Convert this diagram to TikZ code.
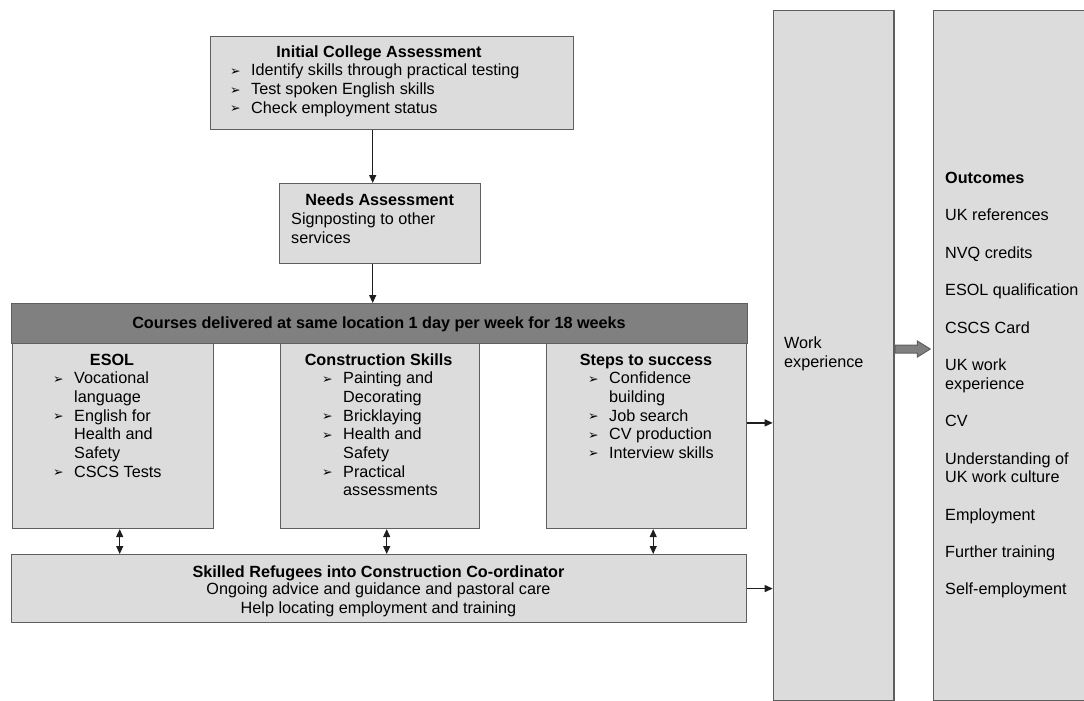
\documentclass[tikz,border=0pt]{standalone}
\usepackage{fontspec}
\setmainfont{Liberation Sans}
\newfontfamily\dingfont{DejaVu Sans}
\usepackage{tikz}
\usetikzlibrary{arrows.meta, positioning, calc, shapes.arrows}
\definecolor{cBox}{RGB}{220,220,220}
\definecolor{cBar}{RGB}{128,128,128}
\definecolor{cEdge}{RGB}{95,95,95}
\definecolor{cLine}{RGB}{30,30,30}
\newcommand{\bul}{\makebox[21pt][l]{\raisebox{0.5pt}{\dingfont\fontsize{12.5}{12.5}\selectfont ➢}}}
\newcommand{\ind}{\hspace*{21pt}}
\tikzset{
	panel/.style    ={rectangle, draw=cEdge, line width=1.4pt, fill=cBox, anchor=north west, inner sep=0pt},
	txt/.style      ={inner sep=0pt, font=\fontsize{16.2}{18.7}\selectfont},
	list/.style     ={txt, anchor=north west, align=left},
	head/.style     ={inner sep=0pt, anchor=base, font=\fontsize{16.2}{18.7}\selectfont\bfseries},
	flowarrow/.style={-{Triangle[length=8pt, width=7pt]}, line width=1.2pt, draw=cLine},
	duplex/.style   ={{Triangle[length=8pt, width=7pt]}-{Triangle[length=8pt, width=7pt]}, line width=1.2pt, draw=cLine},
	fatarrow/.style ={single arrow, draw=cEdge, line width=1pt, fill=cBar, inner sep=3.5pt, minimum height=35pt,
		single arrow head extend=4pt, single arrow tip angle=64, anchor=tail},
}

\begin{document}
\begin{tikzpicture}[x=1pt, y=-1pt]
	\useasboundingbox (0,0) rectangle (1084,701);
	% boxes
	\node[panel, minimum width=363pt, minimum height=93pt]   (init)  at (210,36) {};
	\node[panel, minimum width=201pt, minimum height=80pt]   (needs) at (279,183) {};
	\node[panel, minimum width=736pt, minimum height=40pt, fill=cBar] (bar) at (11,303) {};
	\node[panel, minimum width=201pt, minimum height=185pt]  (esol)  at (12,342.7) {};
	\node[panel, minimum width=199pt, minimum height=185pt]  (cons)  at (280,342.7) {};
	\node[panel, minimum width=200pt, minimum height=185pt]  (steps) at (546,342.7) {};
	\node[panel, minimum width=735pt, minimum height=67.7pt] (coord) at (11,554) {};
	\node[panel, minimum width=120.6pt, minimum height=690pt] (work) at (772.7,10) {};
	\node[panel, minimum width=200pt, minimum height=690pt]  (outc)  at (932.7,10) {};

	% texts
	\node[head] (tInit) at (379,58) {Initial College Assessment};
	\node[list] (lInit) at (230,64) {\bul Identify skills through practical testing\\ \bul Test spoken English skills\\ \bul Check employment status};
	\node[head] (tNeeds) at (379.7,205) {Needs Assessment};
	\node[list] (lNeeds) at (291,213) {Signposting to other\\ services};
	\node[head] (tBar) at (379,328) {Courses delivered at same location 1 day per week for 18 weeks};
	\node[head] (tEsol) at (112,365) {ESOL};
	\node[list] (lEsol) at (53,371.7) {\bul Vocational\\ \ind language\\ \bul English for\\ \ind Health and\\ \ind Safety\\ \bul CSCS Tests};
	\node[head] (tCons) at (378.6,365) {Construction Skills};
	\node[list] (lCons) at (322,371.7) {\bul Painting and\\ \ind Decorating\\ \bul Bricklaying\\ \bul Health and\\ \ind Safety\\ \bul Practical\\ \ind assessments};
	\node[head] (tSteps) at (646,365) {Steps to success};
	\node[list] (lSteps) at (588,371.7) {\bul Confidence\\ \ind building\\ \bul Job search\\ \bul CV production\\ \bul Interview skills};
	\node[head] (tCoord) at (378.5,577) {Skilled Refugees into Construction Co-ordinator};
	\node[txt, anchor=north, align=center] (lCoord) at (378.5,583) {Ongoing advice and guidance and pastoral care\\ Help locating employment and training};
	\node[list] (lWork) at (784,337) {Work\\ experience};
	\node[list] (lOutc) at (945,172) {\textbf{Outcomes}\\[18.7pt] UK references\\[18.7pt] NVQ credits\\[18.7pt] ESOL qualification\\[18.7pt] CSCS Card\\[18.7pt]
		UK work\\ experience\\[18.7pt] CV\\[18.7pt] Understanding of\\ UK work culture\\[18.7pt] Employment\\[18.7pt] Further training\\[18.7pt] Self-employment};

	% connectors
	\coordinate (cx) at (372.7,0);
	\coordinate (fy) at (0,349);
	\draw[flowarrow] (init.south -| cx) -- (needs.north -| cx);
	\draw[flowarrow] (needs.south -| cx) -- (bar.north -| cx);
	\draw[duplex] ([xshift=6.5pt]esol.south) -- ([xshift=6.5pt]esol.south |- coord.north);
	\draw[duplex] ([xshift=6.5pt]cons.south) -- ([xshift=6.5pt]cons.south |- coord.north);
	\draw[duplex] ([xshift=6.5pt]steps.south) -- ([xshift=6.5pt]steps.south |- coord.north);
	\draw[flowarrow] ([yshift=13pt]steps.east) -- ([yshift=13pt]steps.east -| work.west);
	\draw[flowarrow] (coord.east) -- (coord.east -| work.west);
	\node[fatarrow] (fa) at (work.east |- fy) {};
\end{tikzpicture}
\end{document}
